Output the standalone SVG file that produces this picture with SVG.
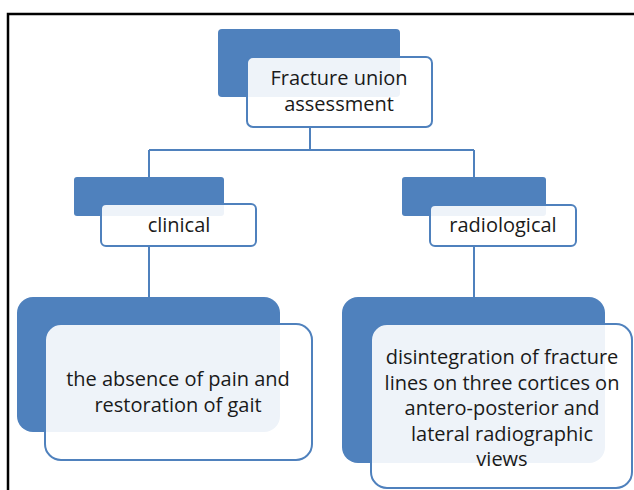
<svg xmlns="http://www.w3.org/2000/svg" width="634" height="490" viewBox="0 0 634 490">
<style>
.bk{fill:#4F81BD}
.fr{fill:#fff;fill-opacity:0.9;stroke:#4F81BD;stroke-width:2}
.t{font-family:"Open Sans","Liberation Sans",sans-serif;font-size:20px;fill:#1a1a1a;text-anchor:middle}
.c{stroke:#4F81BD;stroke-width:2;fill:none}
</style>
<rect x="0" y="0" width="634" height="490" fill="#fff"/>
<path d="M8,490 V14 H634" fill="none" stroke="#000" stroke-width="2.5"/>
<g id="connectors">
<path class="c" d="M310,127 V150 M149,150 H474 M149,150 V177 M474,150 V177"/>
<path class="c" d="M149,246 V297 M474,246 V297"/>
</g>
<g id="root">
<rect class="bk" x="218" y="29" width="182" height="68" rx="4"/>
<rect class="fr" x="247" y="57" width="185" height="70" rx="6"/>
<text class="t" x="339" y="85">Fracture union</text>
<text class="t" x="339" y="111">assessment</text>
</g>
<g id="clinical">
<rect class="bk" x="74" y="177" width="150" height="39" rx="3"/>
<rect class="fr" x="101" y="204" width="155" height="42" rx="5"/>
<text class="t" x="179" y="232">clinical</text>
</g>
<g id="radiological">
<rect class="bk" x="402" y="177" width="144" height="39" rx="3"/>
<rect class="fr" x="430" y="205" width="146" height="41" rx="5"/>
<text class="t" x="503" y="232">radiological</text>
</g>
<g id="clinical-detail">
<rect class="bk" x="17" y="297" width="263" height="135" rx="16"/>
<rect class="fr" x="45" y="324" width="267" height="136" rx="16"/>
<text class="t" x="178" y="386">the absence of pain and</text>
<text class="t" x="178" y="412">restoration of gait</text>
</g>
<g id="radiological-detail">
<rect class="bk" x="342" y="297" width="263" height="166" rx="16"/>
<rect class="fr" x="371" y="324" width="261" height="164" rx="16"/>
<text class="t" x="502" y="364">disintegration of fracture</text>
<text class="t" x="502" y="390">lines on three cortices on</text>
<text class="t" x="502" y="415">antero-posterior and</text>
<text class="t" x="502" y="441">lateral radiographic</text>
<text class="t" x="502" y="466">views</text>
</g>
</svg>
